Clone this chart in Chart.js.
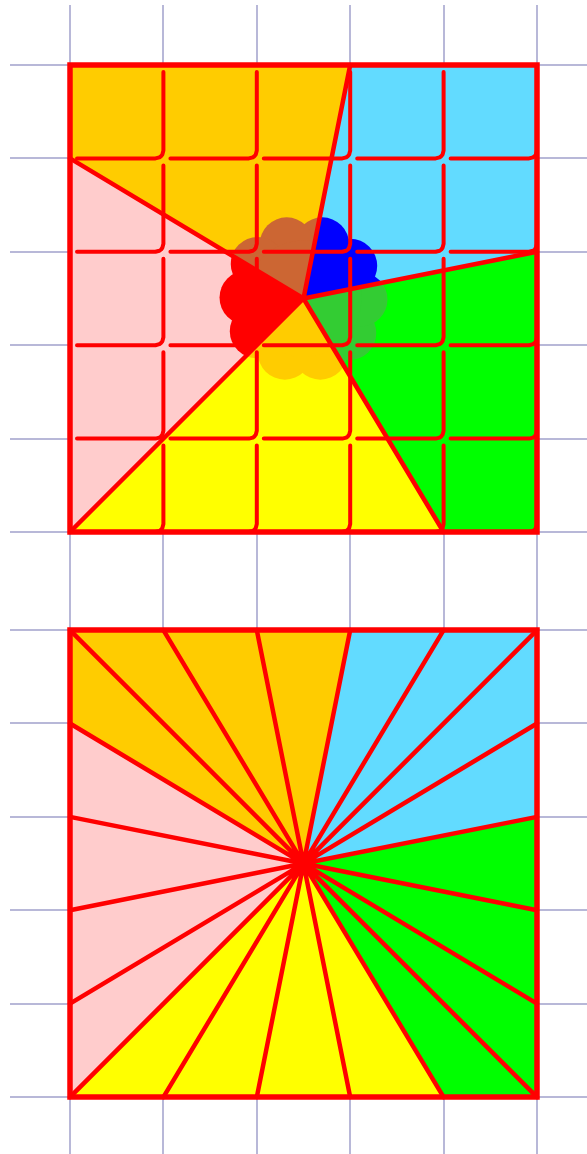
<!DOCTYPE html>
<html lang="en">
<head>
<meta charset="UTF-8">
<title>Sectors</title>
<script src="https://cdn.jsdelivr.net/npm/chart.js"></script>
<style>
  html, body { margin: 0; padding: 0; background: #fff; }
  canvas { display: block; }
</style>
</head>
<body>
<canvas id="pic" width="587" height="1154"></canvas>
<script>
// grid lines, in picture units
const gridX = [0, 1, 2, 3, 4, 5];
const gridYTop = [0, 1, 2, 3, 4, 5];
const lowerBase = -6.05;              // second picture sits under the first
const gridYLower = gridYTop.map(v => v + lowerBase);

// five sectors: corners on the square, closed through the centre
const centre = [2.5, 2.5];
const sectorX = [[0, 0, 3], [3, 5, 5], [5, 5, 4], [4, 0], [0, 0]];
const sectorY = [[4, 5, 5], [5, 5, 3], [3, 0, 0], [0, 0], [0, 4]];
const sectorColours = ['#ffcc00', '#62dbff', '#00ff00', '#ffff00', '#ffcccc'];
const cloudColours = ['#cc6633', '#0000ff', '#33cc33', '#ffcc00', '#ff0000'];

// square outline
const squareX = [0, 5, 5, 0, 0, 5];
const squareY = [0, 0, 5, 5, 0, 0];

// spokes: top picture only on sector borders, lower one to every grid point
const spokesTopX = [0, 3, 5, 4, 0];
const spokesTopY = [4, 5, 3, 0, 0];
const spokesLowX = [0, 1, 2, 3, 4, 5, 5, 5, 5, 5, 5, 4, 3, 2, 1, 0, 0, 0, 0, 0];
const spokesLowY = [5, 5, 5, 5, 5, 5, 4, 3, 2, 1, 0, 0, 0, 0, 0, 0, 1, 2, 3, 4];

// cloud puffs round the centre (last one is the middle)
const cloudX = [2.70, 2.32, 2.01, 1.89, 2.00, 2.30, 2.68, 2.99, 3.11, 3.00, 2.5];
const cloudY = [3.08, 3.08, 2.87, 2.51, 2.15, 1.92, 1.92, 2.13, 2.49, 2.85, 2.5];

const RED = '#ff0000';
const GRID = '#b8b8d8';
const NONE = 'rgba(0,0,0,0)';

const pts = (xs, ys, dy = 0) => xs.map((x, i) => ({ x, y: ys[i] + dy }));

function sectorPoly(k, base) {
  const p = pts(sectorX[k], sectorY[k], base);
  p.push({ x: centre[0], y: centre[1] + base });
  p.push(p[0]);
  return p;
}

function spokes(xs, ys, base) {
  const out = [];
  xs.forEach((x, i) => {
    out.push({ x: centre[0], y: centre[1] + base }, { x, y: ys[i] + base }, { x, y: null });
  });
  return out;
}

// rounded inner cells of the top picture
const gap = 0.075, bend = 0.085;
const cellPath = [];
gridX.slice(0, -1).forEach(i => gridYTop.slice(0, -1).forEach(j => {
  cellPath.push(
    { x: i + 1, y: j + 1 - gap },
    { x: i + 1, y: j + bend },
    { x: i + 1 - bend * 0.13, y: j + bend * 0.5 },
    { x: i + 1 - bend * 0.29, y: j + bend * 0.29 },
    { x: i + 1 - bend * 0.5, y: j + bend * 0.13 },
    { x: i + 1 - bend, y: j },
    { x: i + gap, y: j },
    { x: i, y: null });
}));

const datasets = [];
[0, lowerBase].forEach(base => {
  sectorColours.forEach((c, k) => datasets.push({
    data: sectorPoly(k, base), showLine: true, fill: 'shape',
    backgroundColor: c, borderColor: NONE, borderWidth: 0, pointRadius: 0, order: 5
  }));
});
cloudColours.forEach((c, k) => datasets.push({
  data: pts(cloudX, cloudY), clipPoly: sectorPoly(k, 0),
  pointRadius: cloudX.map((_, i) => i < cloudX.length - 1 ? 27 : 58),
  pointBackgroundColor: c, pointBorderColor: NONE, pointBorderWidth: 0, order: 4
}));
datasets.push({
  data: cellPath, showLine: true, borderColor: RED, borderWidth: 4,
  borderCapStyle: 'round', borderJoinStyle: 'round', pointRadius: 0, order: 3
});
[[spokesTopX, spokesTopY, 0], [spokesLowX, spokesLowY, lowerBase]].forEach(([xs, ys, base]) => {
  datasets.push({
    data: spokes(xs, ys, base), showLine: true, borderColor: RED, borderWidth: 4.5,
    borderCapStyle: 'round', pointRadius: 0, order: 2
  });
  datasets.push({
    data: pts(squareX, squareY, base), showLine: true, borderColor: RED, borderWidth: 5.5,
    borderJoinStyle: 'miter', pointRadius: 0, order: 1
  });
});

// clip the cloud puffs to their sector
const sectorClip = {
  id: 'sectorClip',
  beforeDatasetDraw(chart, args) {
    const poly = chart.data.datasets[args.index].clipPoly;
    if (!poly) return;
    const { x, y } = chart.scales;
    const ctx = chart.ctx;
    ctx.save();
    ctx.beginPath();
    poly.forEach((p, i) => {
      const px = x.getPixelForValue(p.x), py = y.getPixelForValue(p.y);
      i ? ctx.lineTo(px, py) : ctx.moveTo(px, py);
    });
    ctx.closePath();
    ctx.clip();
  },
  afterDatasetDraw(chart, args) {
    if (chart.data.datasets[args.index].clipPoly) chart.ctx.restore();
  }
};

const axis = (min, max, ticks) => ({
  type: 'linear', min, max,
  afterBuildTicks: s => { s.ticks = ticks.map(v => ({ value: v })); },
  ticks: { display: false },
  grid: { color: GRID, lineWidth: 2, drawTicks: false },
  border: { display: false }
});

new Chart(document.getElementById('pic'), {
  type: 'scatter',
  data: { datasets },
  options: {
    responsive: false,
    devicePixelRatio: 1,
    animation: false,
    events: [],
    layout: { autoPadding: false, padding: { left: 10, top: 5, right: 0, bottom: 0 } },
    plugins: { legend: { display: false }, tooltip: { enabled: false } },
    scales: {
      x: axis(-0.6424, 5.5353, gridX),
      y: axis(-6.6595, 5.6424, [...gridYTop, ...gridYLower])
    }
  },
  plugins: [sectorClip]
});
</script>
</body>
</html>
